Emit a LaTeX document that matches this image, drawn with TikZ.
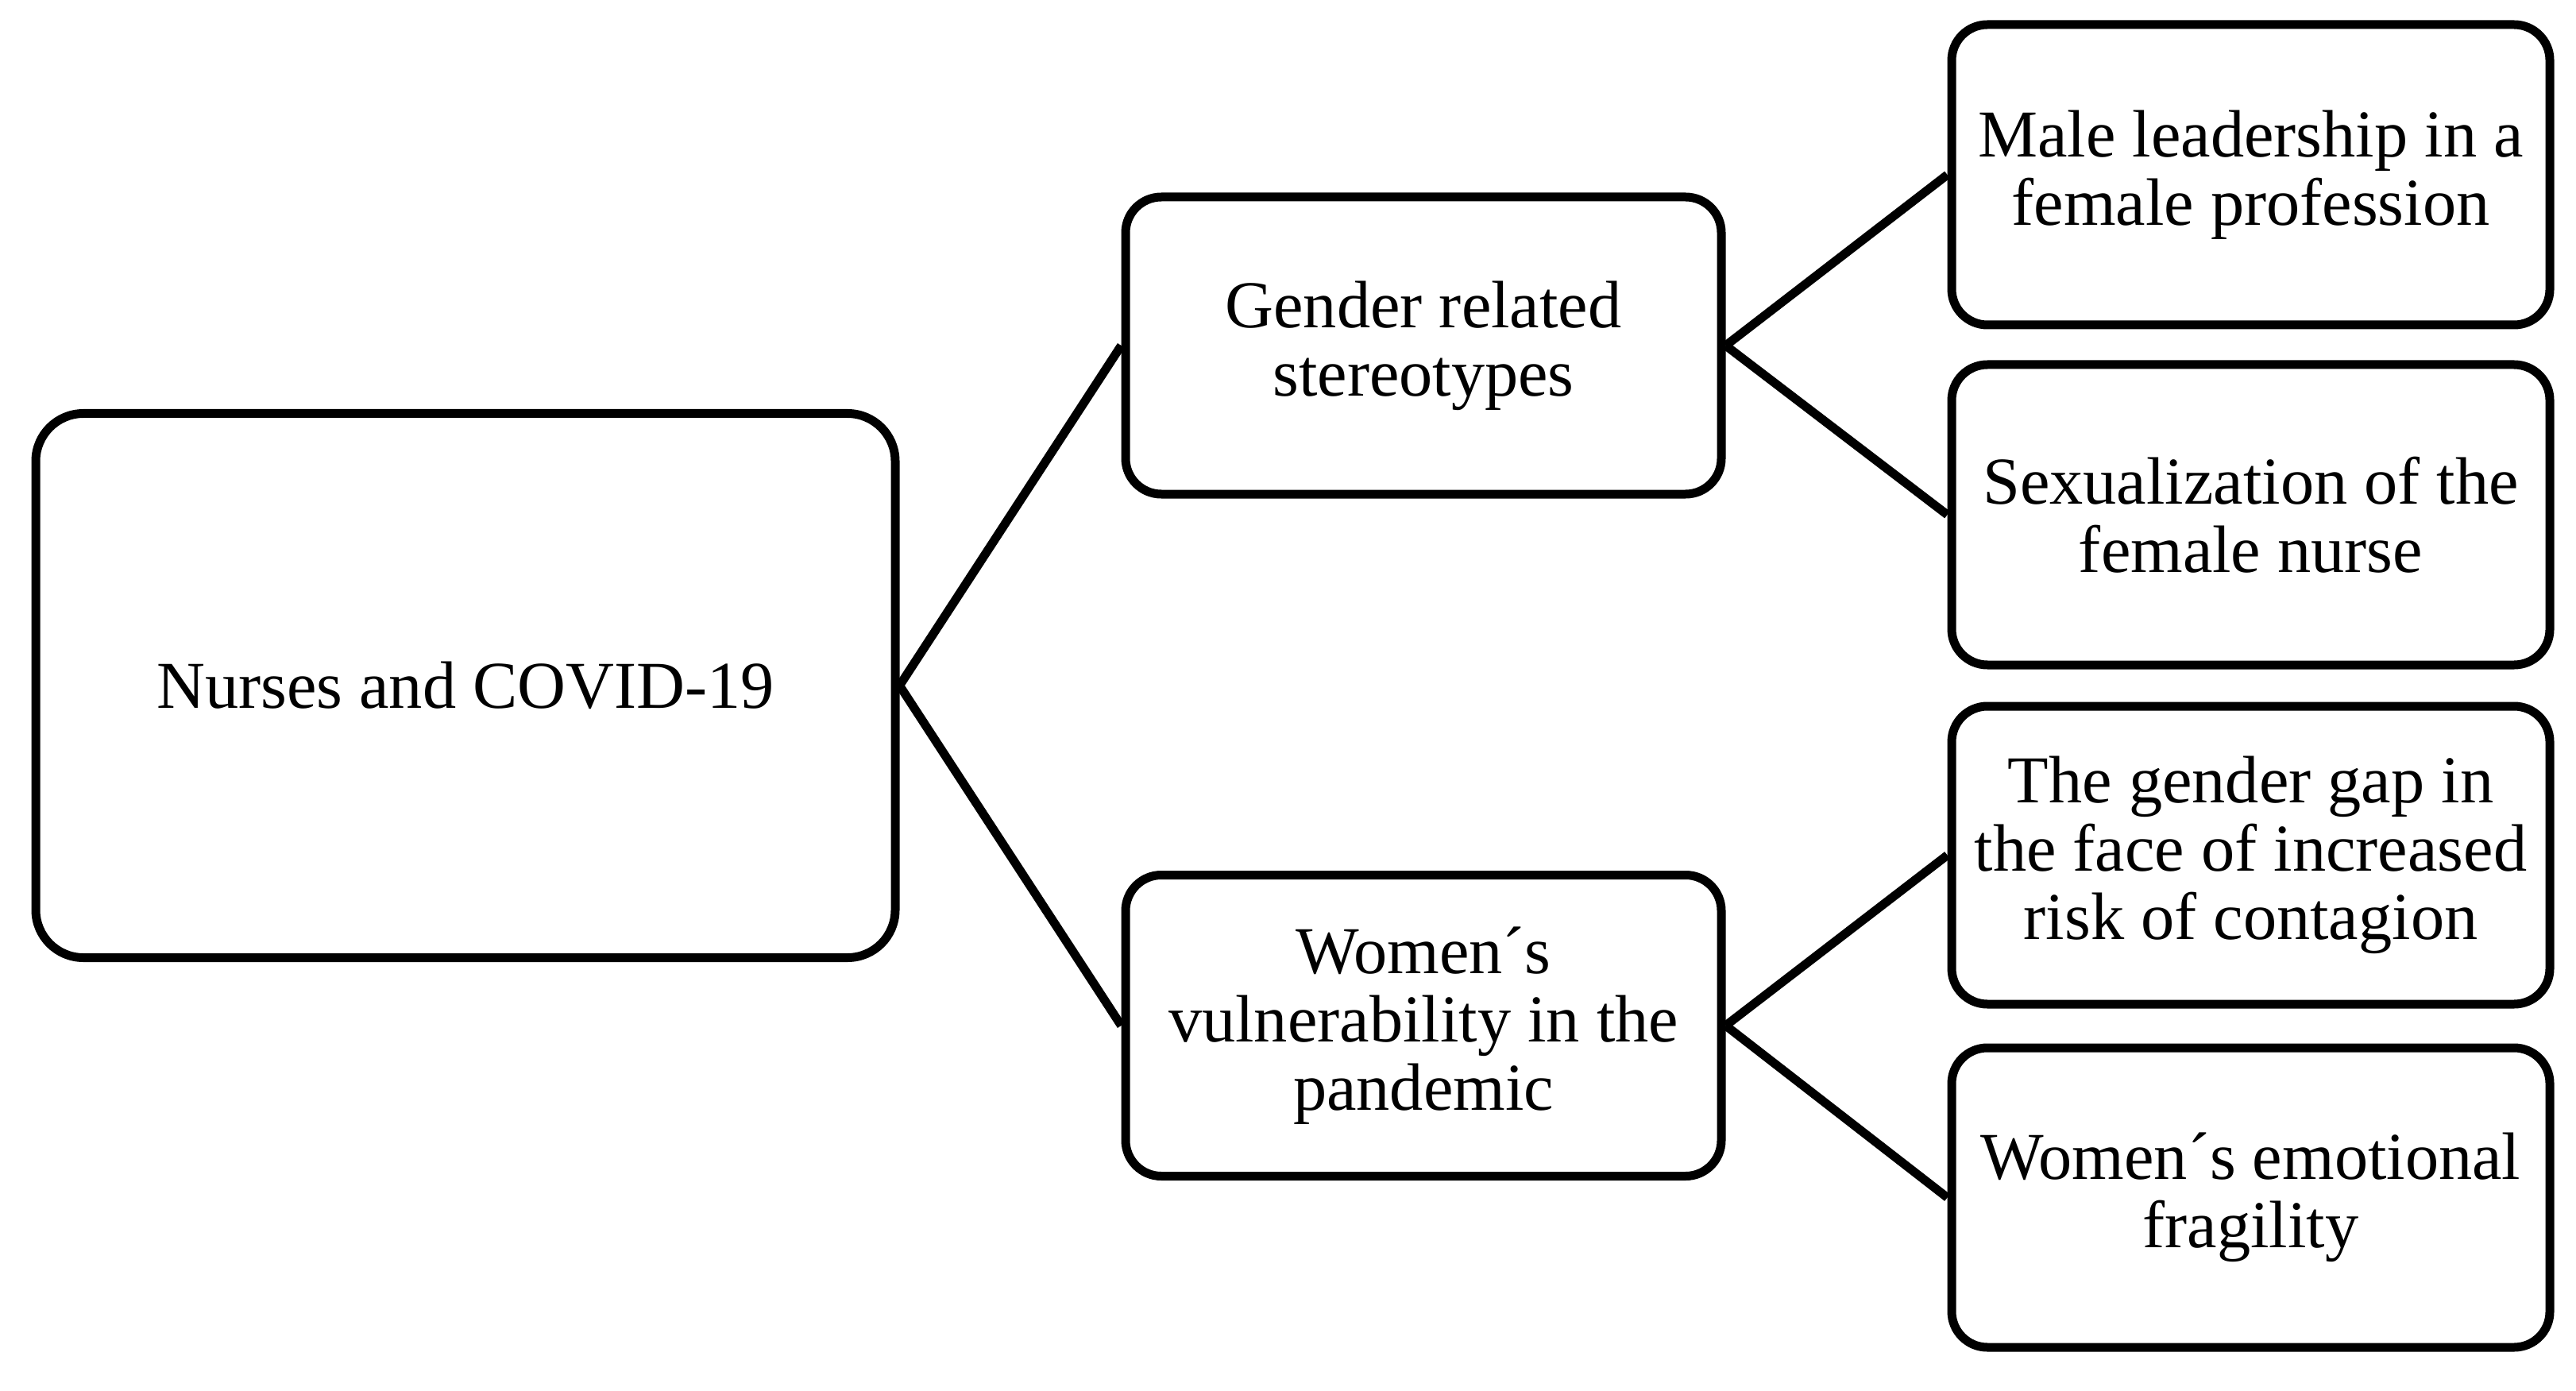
\documentclass[tikz,border=0pt]{standalone}
\usepackage{fontspec}
\setmainfont{Liberation Serif}
\begin{document}
\begin{tikzpicture}[
  box/.style={draw=black, line width=0.11cm, rounded corners=0.45cm, align=center,
    inner sep=0pt, font=\fontsize{24}{24.5}\selectfont, fill=white},
  conn/.style={line width=0.11cm}
]
\useasboundingbox (0,0) rectangle (32.43,-17.5);
\node[box, minimum width=10.82cm, minimum height=6.85cm, rounded corners=0.6cm] (root) at (5.86,-8.63) {Nurses and COVID-19};
\node[box, minimum width=7.5cm, minimum height=3.74cm] (gender) at (17.92,-4.35) {Gender related\\stereotypes};
\node[box, minimum width=7.5cm, minimum height=3.79cm] (women) at (17.92,-12.91) {Women´s\\vulnerability in the\\pandemic};
\node[box, minimum width=7.53cm, minimum height=3.78cm] (male) at (28.335,-2.20) {Male leadership in a\\female profession};
\node[box, minimum width=7.53cm, minimum height=3.78cm] (sex) at (28.335,-6.48) {Sexualization of the\\female nurse};
\node[box, minimum width=7.53cm, minimum height=3.75cm] (gap) at (28.335,-10.765) {The gender gap in\\the face of increased\\risk of contagion};
\node[box, minimum width=7.53cm, minimum height=3.77cm] (emo) at (28.335,-15.075) {Women´s emotional\\fragility};
\draw[conn] (root.east) -- (gender.west);
\draw[conn] (root.east) -- (women.west);
\draw[conn] (gender.east) -- (male.west);
\draw[conn] (gender.east) -- (sex.west);
\draw[conn] (women.east) -- (gap.west);
\draw[conn] (women.east) -- (emo.west);
\end{tikzpicture}
\end{document}
